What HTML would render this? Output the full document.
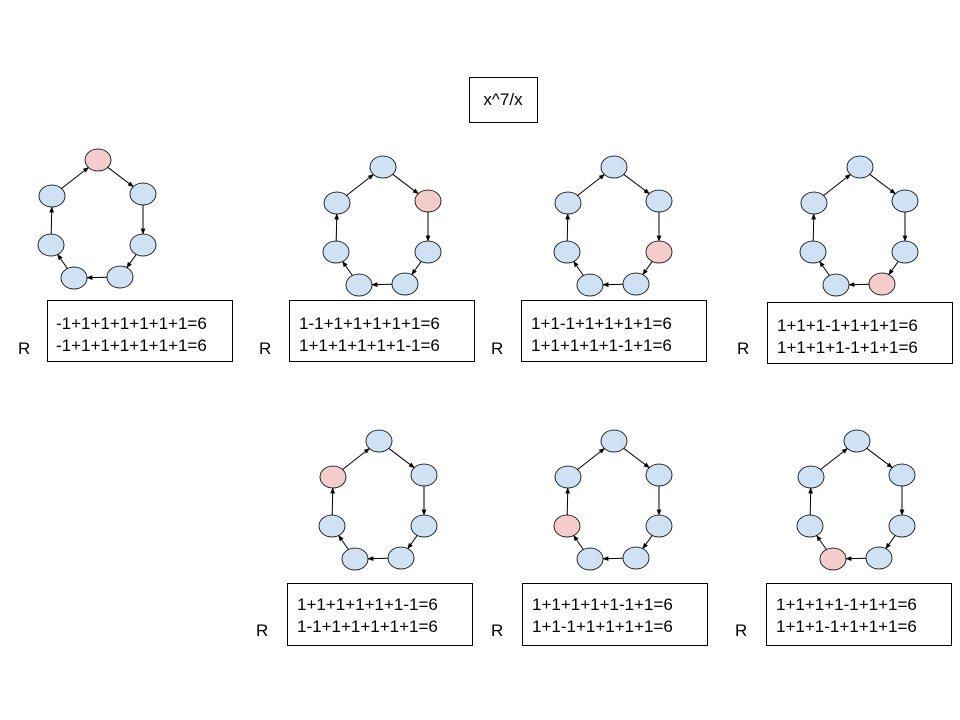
<!DOCTYPE html>
<html><head><meta charset="utf-8"><style>
html,body{margin:0;padding:0;background:#fff;}
svg{display:block;}
text{font-family:"Liberation Sans",sans-serif;fill:#000;}
</style></head><body>
<svg id="s" width="960" height="720" viewBox="0 0 960 720" xmlns="http://www.w3.org/2000/svg">
<defs><marker id="a" viewBox="0 0 10 10" refX="9" refY="5" markerWidth="6" markerHeight="6" orient="auto"><path d="M0,1 L10,5 L0,9 z" fill="#000"/></marker></defs>
<rect x="469.5" y="77.5" width="68" height="45" fill="#fff" stroke="#000"/>
<text x="503" y="105" font-size="17" text-anchor="middle">x^7/x</text>
<g id="cy"></g>
<g font-size="17" fill="#fff" stroke="#000">
<rect x="47.5" y="300.5" width="185" height="61"/>
<rect x="289.5" y="300.5" width="185" height="61"/>
<rect x="521.5" y="300.5" width="185" height="61"/>
<rect x="767.5" y="302.5" width="185" height="61"/>
<rect x="287.5" y="583.5" width="185" height="62"/>
<rect x="522.5" y="583.5" width="185" height="62"/>
<rect x="766.5" y="583.5" width="185" height="62"/>
</g>
<g font-size="17">
<text x="56" y="329">-1+1+1+1+1+1+1=6</text><text x="56" y="351">-1+1+1+1+1+1+1=6</text>
<text x="299" y="329">1-1+1+1+1+1+1=6</text><text x="299" y="351">1+1+1+1+1+1-1=6</text>
<text x="531" y="329">1+1-1+1+1+1+1=6</text><text x="531" y="351">1+1+1+1+1-1+1=6</text>
<text x="777" y="331">1+1+1-1+1+1+1=6</text><text x="777" y="353">1+1+1+1-1+1+1=6</text>
<text x="297" y="610">1+1+1+1+1+1-1=6</text><text x="297" y="632">1-1+1+1+1+1+1=6</text>
<text x="532" y="610">1+1+1+1+1-1+1=6</text><text x="532" y="632">1+1-1+1+1+1+1=6</text>
<text x="776" y="610">1+1+1+1-1+1+1=6</text><text x="776" y="632">1+1+1-1+1+1+1=6</text>
<text x="18" y="354">R</text><text x="259" y="354">R</text><text x="491" y="354">R</text><text x="737" y="354">R</text>
<text x="256" y="636">R</text><text x="491" y="636">R</text><text x="735" y="636">R</text>
</g>
</svg>
<script>
var offs=[[0,0],[45,34],[45,85],[22,117],[-24,118],[-47,85],[-46,36]];
var cyc=[[98,160,0],[383,167,1],[614,167,2],[860,167,3],[379,441,6],[614,441,5],[857,441,4]];
var rx=13,ry=11,h='';
cyc.forEach(function(c){
 var p=offs.map(function(o){return [c[0]+o[0],c[1]+o[1]];});
 for(var i=0;i<7;i++){
  var a=p[i],b=p[(i+1)%7],dx=b[0]-a[0],dy=b[1]-a[1],L=Math.hypot(dx,dy),ux=dx/L,uy=dy/L;
  var r=1/Math.sqrt(ux*ux/(rx*rx)+uy*uy/(ry*ry));
  h+='<line x1="'+(a[0]+ux*r)+'" y1="'+(a[1]+uy*r)+'" x2="'+(b[0]-ux*r)+'" y2="'+(b[1]-uy*r)+'" stroke="#000" stroke-width="1" marker-end="url(#a)"/>';
 }
 p.forEach(function(q,i){
  h+='<ellipse cx="'+q[0]+'" cy="'+q[1]+'" rx="'+rx+'" ry="'+ry+'" fill="'+(i==c[2]?'#f4cccc':'#cfe2f3')+'" stroke="#000" stroke-width="0.8"/>';
 });
});
document.getElementById('cy').innerHTML=h;
</script>
</body></html>
